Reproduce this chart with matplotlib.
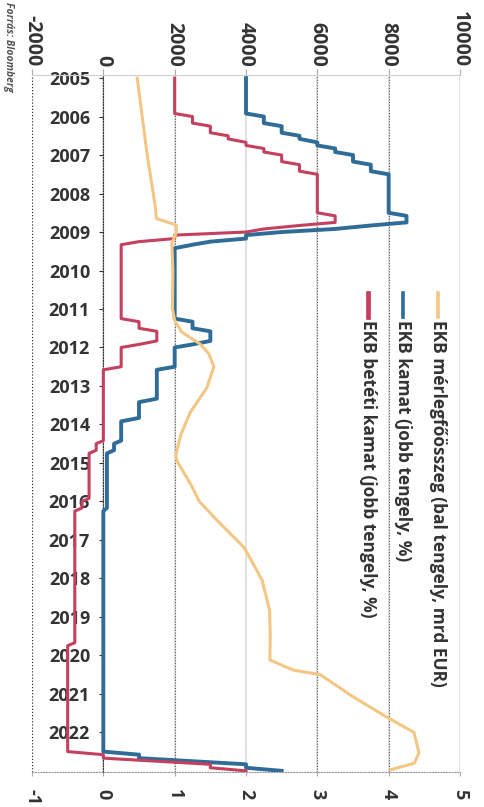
import matplotlib.pyplot as plt
from matplotlib.lines import Line2D

# ---------------------------------------------------------
# Data read off the (rotated) chart
# ---------------------------------------------------------
# EKB kamat (%), vertices of the plotted line
rate_dates = [2005.00, 2005.92, 2006.00, 2006.17, 2006.25, 2006.42, 2006.50, 2006.58, 2006.67,
              2006.75, 2006.83, 2006.92, 2007.00, 2007.17, 2007.25, 2007.42, 2007.50, 2008.50,
              2008.58, 2008.75, 2008.83, 2008.92, 2009.00, 2009.08, 2009.17, 2009.25, 2009.33,
              2009.42, 2011.25, 2011.33, 2011.50, 2011.58, 2011.83, 2011.92, 2012.00, 2012.50,
              2012.58, 2013.33, 2013.42, 2013.83, 2013.92, 2014.42, 2014.50, 2014.67, 2014.75,
              2016.17, 2016.25, 2022.50, 2022.58, 2022.67, 2022.75, 2022.83, 2022.92, 2023.00]
rate_vals = [2.00, 2.00, 2.25, 2.25, 2.50, 2.50, 2.75, 2.75, 3.00,
             3.00, 3.25, 3.25, 3.50, 3.50, 3.75, 3.75, 4.00, 4.00,
             4.25, 4.25, 3.75, 3.25, 2.50, 2.00, 2.00, 1.50, 1.25,
             1.00, 1.00, 1.25, 1.25, 1.50, 1.50, 1.25, 1.00, 1.00,
             0.75, 0.75, 0.50, 0.50, 0.25, 0.25, 0.15, 0.15, 0.05,
             0.05, 0.00, 0.00, 0.50, 0.50, 1.25, 2.00, 2.00, 2.50]

# EKB betéti kamat (%)
dep_dates = [2005.00, 2005.92, 2006.00, 2006.17, 2006.25, 2006.42, 2006.50, 2006.58, 2006.67,
             2006.75, 2006.83, 2006.92, 2007.00, 2007.17, 2007.25, 2007.42, 2007.50, 2008.50,
             2008.58, 2008.75, 2008.83, 2008.92, 2009.00, 2009.08, 2009.17, 2009.25, 2009.33,
             2011.25, 2011.33, 2011.50, 2011.58, 2011.83, 2011.92, 2012.00, 2012.50, 2012.58,
             2014.42, 2014.50, 2014.67, 2014.75, 2015.92, 2016.00, 2016.17, 2016.25, 2019.67,
             2019.75, 2022.50, 2022.58, 2022.67, 2022.75, 2022.83, 2022.92, 2023.00]
dep_vals = [1.00, 1.00, 1.25, 1.25, 1.50, 1.50, 1.75, 1.75, 2.00,
            2.00, 2.25, 2.25, 2.50, 2.50, 2.75, 2.75, 3.00, 3.00,
            3.25, 3.25, 2.75, 2.25, 2.00, 1.00, 1.00, 0.50, 0.25,
            0.25, 0.50, 0.50, 0.75, 0.75, 0.50, 0.25, 0.25, 0.00,
            0.00, -0.10, -0.10, -0.20, -0.20, -0.30, -0.30, -0.40, -0.40,
            -0.50, -0.50, 0.00, 0.00, 0.75, 1.50, 1.50, 2.00]

# EKB mérlegfőösszeg (mrd EUR)
bs_dates = [2005.00, 2006.00, 2007.00, 2008.00, 2008.30, 2008.65, 2008.82, 2009.00, 2009.30,
            2010.00, 2011.00, 2011.30, 2011.60, 2011.90, 2012.15, 2012.50, 2013.05, 2013.68,
            2014.27, 2014.80, 2014.96, 2015.57, 2016.00, 2016.53, 2017.20, 2018.04, 2018.82,
            2019.50, 2020.12, 2020.38, 2020.50, 2021.08, 2021.60, 2022.00, 2022.53, 2022.80,
            2022.97]
bs_vals = [950, 1090, 1230, 1400, 1450, 1490, 2045, 2050, 1920,
           1950, 1940, 2000, 2200, 2700, 2950, 3100, 2900, 2440,
           2170, 2030, 2070, 2460, 2690, 3230, 3950, 4450, 4660,
           4680, 4670, 5320, 6080, 7010, 7940, 8710, 8850, 8720,
           8070]

years = list(range(2005, 2023))
bs_ticks = [-2000, 0, 2000, 4000, 6000, 8000, 10000]
rate_ticks = [-1, 0, 1, 2, 3, 4, 5]
labels = ['EKB mérlegfőösszeg (bal tengely, mrd EUR)',
          'EKB kamat (jobb tengely, %)',
          'EKB betéti kamat (jobb tengely, %)']

c_bs = '#f4c684'
c_rate = '#2f6c98'
c_dep = '#c53f5f'
txt = '#333333'
font = 'Open Sans'

# ---------------------------------------------------------
# Figure (chart is drawn turned 90 degrees clockwise)
# ---------------------------------------------------------
fig = plt.figure(figsize=(4.84, 8.07), dpi=100)
ax = fig.add_axes([32 / 484, 1 - 772 / 807, 428 / 484, 697 / 807])
ax2 = ax.twiny()

ax.set_xlim(-1, 5)
ax2.set_xlim(-2000, 10000)
ax.set_ylim(2023.03, 2004.92)

# grid
for v in rate_ticks[1:]:
    ax.axvline(v, color='#dcdcdc', lw=1.2, zorder=0)
for v in [1, 3, 4]:
    ax.axvline(v, color='#555555', lw=0.8, ls=(0, (1, 1.5)), zorder=0)
ax.axvline(-1, color='#333333', lw=0.9, ls=(0, (1, 1.5)), zorder=0)

# series
ax.plot(rate_vals, rate_dates, color=c_rate, lw=2.8, zorder=3)
ax.plot(dep_vals, dep_dates, color=c_dep, lw=2.2, zorder=3)
ax2.plot(bs_vals, bs_dates, color=c_bs, lw=2.2, zorder=2)

# spines
for s in ['top', 'right']:
    ax.spines[s].set_visible(False)
ax.spines['left'].set_position(('data', 0))
ax.spines['left'].set_linestyle((0, (1, 1.5)))
ax.spines['left'].set_color('#333333')
ax.spines['bottom'].set_color('#999999')
ax.spines['bottom'].set_linestyle((0, (1, 1.5)))
for s in ['left', 'bottom', 'right']:
    ax2.spines[s].set_visible(False)
ax2.spines['top'].set_color('#d0d0d0')

# year axis
ax.set_yticks(years)
ax.set_yticklabels([str(y) for y in years], fontsize=13, fontweight='bold',
                   color=txt, fontfamily=font)
ax.tick_params(axis='y', direction='out', length=3, width=0.8, color='#333333', pad=6.5)

# right axis (bottom)
ax.set_xticks(rate_ticks)
ax.set_xticklabels([str(t) for t in rate_ticks], rotation=-90, fontsize=13,
                   fontweight='bold', color=txt, fontfamily=font)
ax.tick_params(axis='x', length=3, color='#aaaaaa', pad=9)

# left axis (top)
ax2.set_xticks(bs_ticks)
ax2.set_xticklabels([str(t) for t in bs_ticks], rotation=-90, fontsize=14,
                    fontweight='bold', color=txt, fontfamily=font)
ax2.tick_params(axis='x', length=4, color='#aaaaaa', pad=2)

# legend, drawn by hand as it is turned too
for xc, lab, col, lw in zip([438, 403, 368], labels, [c_bs, c_rate, c_dep], [2.6, 2.6, 3.4]):
    fig.add_artist(Line2D([xc / 484, xc / 484], [1 - 293 / 807, 1 - 317 / 807],
                          color=col, lw=lw))
    fig.text(xc / 484, 1 - 320 / 807, lab, rotation=-90, ha='center', va='top',
             fontsize=12.5, fontweight='bold', color=txt, fontfamily=font)

fig.text(8 / 484, 1 - 2 / 807, 'Forrás: Bloomberg', rotation=-90, ha='center', va='top',
         fontsize=7.5, style='italic', fontweight='bold', color='#555555', fontfamily=font)

fig.savefig('out.png', dpi=100)
